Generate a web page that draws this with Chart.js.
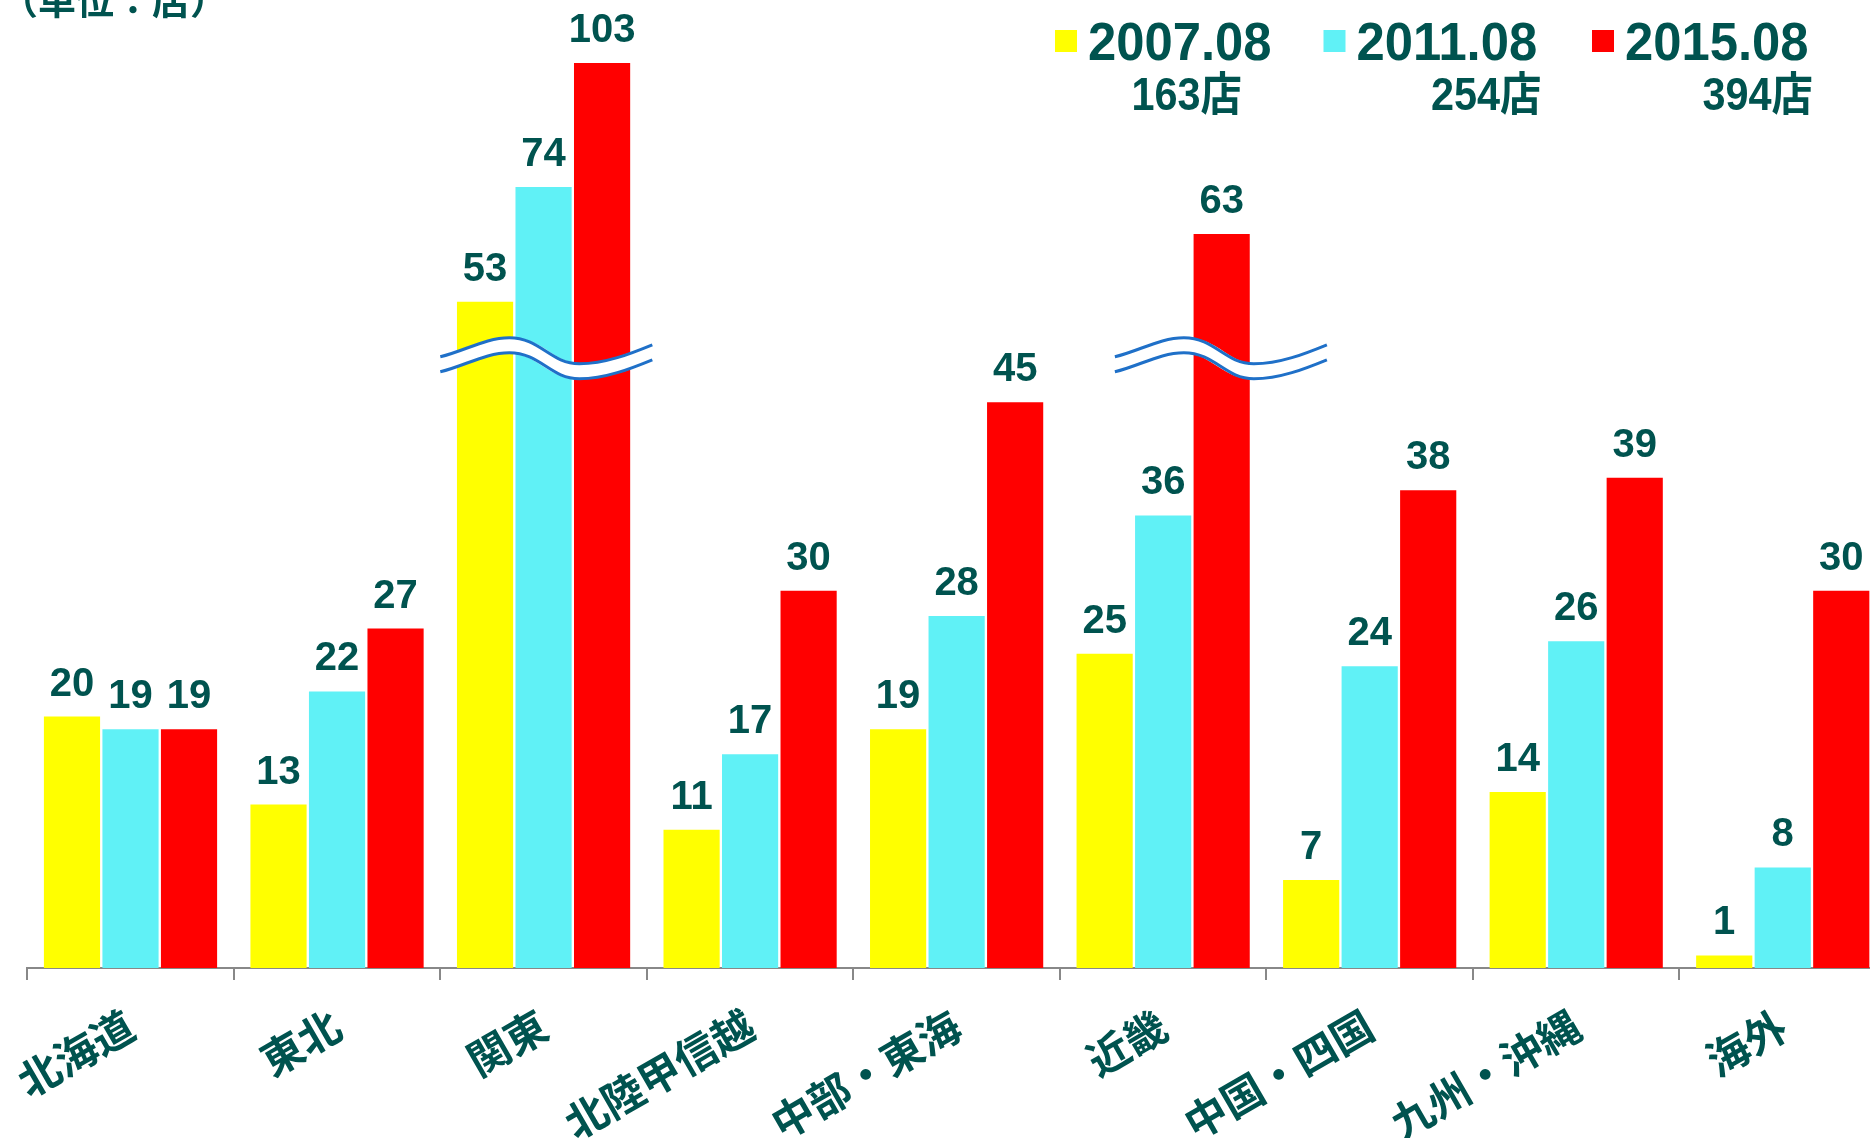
<!DOCTYPE html>
<html lang="ja">
<head>
<meta charset="utf-8">
<title>地域別店舗数</title>
<script src="https://cdn.jsdelivr.net/npm/chart.js@4.4.1/dist/chart.umd.min.js"></script>
<style>
  html, body { margin: 0; padding: 0; background: #fff; overflow: hidden; }
  #wrap { position: relative; width: 1886px; height: 1138px; }
</style>
</head>
<body>
<div id="wrap"><canvas id="chart"></canvas></div>
<script>
const regions = ["北海道", "東北", "関東", "北陸甲信越", "中部・東海", "近畿", "中国・四国", "九州・沖縄", "海外"];
const seriesNames = ["2007.08", "2011.08", "2015.08"];
const stores2007 = [20, 13, 53, 11, 19, 25, 7, 14, 1];
const stores2011 = [19, 22, 74, 17, 28, 36, 24, 26, 8];
const stores2015 = [19, 27, 103, 30, 45, 63, 38, 39, 30];
const unitLabel = "（単位：店）";
const storeSuffix = "店";
// groups whose tall bars are cut by a wavy break mark
const brokenRegions = ["関東", "近畿"];

// the picture squeezes everything above ~56 stores
const BREAK_AT = 56;
const SQUEEZE = 0.34;
const WAVE_VALUE = 48.5;

const TEXT = "#00534F";
const colors = ["#FFFF00", "#60F1F6", "#FF0000"];
const allSeries = [stores2007, stores2011, stores2015];

function squeeze(v) {
  return v <= BREAK_AT ? v : BREAK_AT + (v - BREAK_AT) * SQUEEZE;
}

// wave mark, shifted a bit to the right on 近畿
const waveShift = { "関東": 0, "近畿": 55 };

function wavePath(ctx, left, cy) {
  ctx.beginPath();
  ctx.moveTo(left, cy + 6);
  ctx.bezierCurveTo(left + 25, cy, left + 45, cy - 13, left + 69, cy - 13);
  ctx.bezierCurveTo(left + 100, cy - 13, left + 110, cy + 13, left + 139, cy + 13);
  ctx.bezierCurveTo(left + 165, cy + 13, left + 190, cy + 3, left + 212, cy - 6);
}

function drawWave(ctx, left, cy) {
  ctx.save();
  ctx.lineCap = "butt";
  ctx.strokeStyle = "#fff";
  ctx.lineWidth = 16;
  wavePath(ctx, left, cy);
  ctx.stroke();
  ctx.strokeStyle = "#1F70C8";
  ctx.lineWidth = 3;
  wavePath(ctx, left, cy - 7.5);
  ctx.stroke();
  wavePath(ctx, left, cy + 7.5);
  ctx.stroke();
  ctx.restore();
}

const extras = {
  id: "extras",
  afterDatasetsDraw(chart) {
    const ctx = chart.ctx;
    const x = chart.scales.x, y = chart.scales.y;
    const catW = x.width / regions.length;

    brokenRegions.forEach(function (name) {
      const i = regions.indexOf(name);
      const left = x.getPixelForValue(i) - catW / 2 + waveShift[name];
      drawWave(ctx, left, y.getPixelForValue(WAVE_VALUE));
    });

    // value labels above the bars (real values, not the squeezed ones)
    ctx.save();
    ctx.font = "bold 40px 'Liberation Sans', Arial, sans-serif";
    ctx.fillStyle = TEXT;
    ctx.textAlign = "center";
    ctx.textBaseline = "alphabetic";
    chart.data.datasets.forEach(function (ds, d) {
      chart.getDatasetMeta(d).data.forEach(function (bar, i) {
        ctx.fillText(String(allSeries[d][i]), bar.x, bar.y - 21);
      });
    });
    ctx.restore();
  },
  afterDraw(chart) {
    const ctx = chart.ctx;
    ctx.save();

    // unit note, cut off at the top like the original
    ctx.fillStyle = TEXT;
    ctx.font = "bold 38px 'Noto Sans CJK JP', sans-serif";
    ctx.textAlign = "left";
    ctx.textBaseline = "middle";
    ctx.fillText(unitLabel, 0, 0);

    // legend with totals
    const legendLeft = 1055, legendStep = 268.5;
    const totalsRight = [187, 218, 221];
    seriesNames.forEach(function (name, s) {
      const x0 = legendLeft + s * legendStep;
      ctx.fillStyle = colors[s];
      ctx.fillRect(x0, 30, 22, 22);

      ctx.fillStyle = TEXT;
      ctx.textBaseline = "alphabetic";
      ctx.font = "bold 54px 'Liberation Sans', Arial, sans-serif";
      ctx.textAlign = "left";
      ctx.save();
      ctx.translate(x0 + 33, 60);
      ctx.scale(0.94, 1);
      ctx.fillText(name, 0, 0);
      ctx.restore();

      const total = allSeries[s].reduce(function (a, b) { return a + b; }, 0);
      ctx.font = "bold 46px 'Liberation Sans', 'Noto Sans CJK JP', sans-serif";
      ctx.textAlign = "right";
      ctx.save();
      ctx.translate(x0 + totalsRight[s], 110);
      ctx.scale(0.9, 1);
      ctx.fillText(total + storeSuffix, 0, 0);
      ctx.restore();
    });
    ctx.restore();
  }
};

const ctx = document.getElementById("chart").getContext("2d");
new Chart(ctx, {
  type: "bar",
  data: {
    labels: regions,
    datasets: seriesNames.map(function (name, s) {
      return {
        label: name,
        data: allSeries[s].map(squeeze),
        backgroundColor: colors[s],
        borderWidth: 0,
        categoryPercentage: 0.85,
        barPercentage: 0.96
      };
    })
  },
  options: {
    responsive: true,
    maintainAspectRatio: false,
    animation: false,
    layout: { padding: { left: 25, right: 0, top: 0, bottom: 0 } },
    plugins: {
      legend: { display: false },
      tooltip: { enabled: false }
    },
    scales: {
      x: {
        grid: {
          display: true,
          drawOnChartArea: false,
          drawTicks: true,
          tickLength: 12,
          color: "#888",
          lineWidth: 2,
          offset: true
        },
        border: { display: true, color: "#888", width: 2 },
        ticks: {
          color: TEXT,
          font: { family: "'Noto Sans CJK JP', sans-serif", weight: "bold", size: 42 },
          minRotation: 30,
          maxRotation: 30,
          padding: 20,
          autoSkip: false
        },
        afterFit(scale) { scale.height = 170; }
      },
      y: { display: false, min: 0, max: 77 }
    }
  },
  plugins: [extras]
});
</script>
</body>
</html>
